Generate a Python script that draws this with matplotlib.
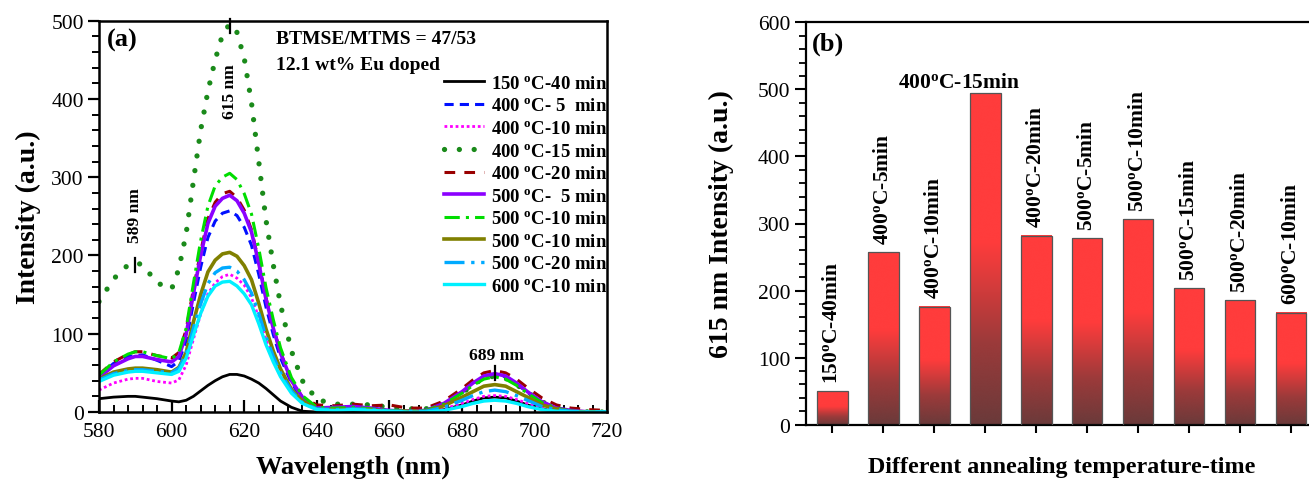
import numpy as np
import matplotlib
matplotlib.use('Agg')
import matplotlib.pyplot as plt
from matplotlib.ticker import MultipleLocator, NullFormatter
from matplotlib.colors import LinearSegmentedColormap

plt.rcParams['font.family'] = ['Liberation Serif', 'DejaVu Serif']
plt.rcParams['mathtext.fontset'] = 'custom'
plt.rcParams['mathtext.rm'] = 'Liberation Serif'
plt.rcParams['mathtext.bf'] = 'Liberation Serif:bold'
plt.rcParams['mathtext.it'] = 'Liberation Serif:italic'

# ---------------- data: panel (a) ----------------
wavelength = [580, 584, 588, 590, 592, 596,
              600, 602, 604, 606, 608, 610, 612, 614, 616, 618, 620, 622, 624, 626, 628, 630,
              633, 636, 640,
              645, 650, 655, 660, 665, 670, 675,
              680, 683, 686, 689, 692, 695, 698,
              702, 706, 710, 715, 720]

I_150_40 = [17, 19, 20, 20, 19, 17,
            14, 13, 15, 20, 27, 34, 40, 45, 48, 48, 46, 42, 37, 30, 22, 14,
            6, 1, 0,
            0, 0, 0, 0, 0, 0, 3,
            9, 14, 18, 19, 18, 14, 9,
            4, 1, 0, 0, 0]
I_400_5 = [46, 62, 71, 72, 73, 66,
           58, 65, 91, 139, 185, 223, 244, 254, 257, 251, 236, 213, 176, 134, 99, 69,
           37, 17, 5,
           5, 6, 4, 2, 1, 2, 10,
           25, 36, 45, 48, 45, 36, 25,
           13, 5, 2, 0, 0]
I_400_10 = [28, 37, 42, 43, 43, 39,
            37, 41, 60, 93, 125, 151, 165, 173, 176, 171, 162, 146, 121, 92, 68, 48,
            26, 12, 3,
            3, 4, 3, 1, 1, 1, 4,
            11, 16, 20, 21, 20, 16, 11,
            6, 2, 1, 0, 0]
I_400_15 = [141, 170, 188, 191, 188, 165,
            157, 183, 228, 295, 360, 410, 450, 482, 496, 485, 452, 395, 320, 245, 188, 137,
            78, 40, 16,
            10, 10, 9, 6, 4, 4, 10,
            24, 35, 43, 46, 43, 35, 25,
            13, 5, 2, 0, 0]
I_400_20 = [48, 64, 74, 77, 77, 72,
            69, 76, 105, 157, 205, 247, 268, 279, 282, 274, 258, 233, 192, 146, 108, 76,
            41, 19, 9,
            8, 10, 8, 9, 5, 5, 14,
            30, 41, 50, 53, 50, 42, 31,
            18, 9, 5, 3, 2]
I_500_5 = [44, 59, 68, 71, 71, 67,
           64, 71, 99, 151, 200, 241, 263, 273, 277, 270, 254, 230, 190, 144, 107, 75,
           40, 19, 5,
           6, 7, 5, 2, 1, 2, 11,
           26, 37, 46, 49, 46, 37, 26,
           13, 5, 2, 0, 0]
I_500_10a = [47, 64, 74, 77, 77, 72,
             68, 76, 107, 164, 219, 263, 289, 300, 305, 297, 279, 253, 209, 159, 118, 82,
             44, 21, 6,
             5, 6, 4, 2, 1, 2, 10,
             24, 34, 42, 45, 42, 34, 24,
             12, 5, 1, 0, 0]
I_500_10b = [42, 51, 55, 56, 56, 54,
             51, 57, 76, 115, 150, 179, 194, 202, 204, 199, 187, 169, 139, 106, 78, 55,
             29, 14, 4,
             3, 4, 3, 1, 1, 1, 8,
             19, 26, 33, 35, 33, 26, 19,
             9, 4, 1, 0, 0]
I_500_20 = [41, 49, 53, 54, 54, 52,
            50, 56, 74, 107, 138, 164, 178, 184, 185, 180, 169, 152, 126, 96, 71, 50,
            27, 12, 4,
            3, 4, 3, 1, 1, 1, 6,
            15, 21, 26, 28, 26, 21, 15,
            7, 3, 1, 0, 0]
I_600_10 = [39, 47, 51, 52, 52, 50,
            48, 52, 69, 98, 126, 148, 161, 166, 167, 161, 151, 137, 113, 86, 64, 45,
            24, 11, 3,
            2, 3, 2, 1, 0, 0, 2,
            7, 11, 14, 15, 14, 11, 7,
            3, 1, 0, 0, 0]

O = r'$^{\mathbf{o}}$'
series_labels = ['150 ' + O + 'C-40 min', '400 ' + O + 'C- 5  min', '400 ' + O + 'C-10 min',
                 '400 ' + O + 'C-15 min', '400 ' + O + 'C-20 min', '500 ' + O + 'C-  5 min',
                 '500 ' + O + 'C-10 min', '500 ' + O + 'C-10 min', '500 ' + O + 'C-20 min',
                 '600 ' + O + 'C-10 min']
series_values = [I_150_40, I_400_5, I_400_10, I_400_15, I_400_20, I_500_5,
                 I_500_10a, I_500_10b, I_500_20, I_600_10]

peak_positions = [590, 616, 689]
peak_names = ['589 nm', '615 nm', '689 nm']

# ---------------- data: panel (b) ----------------
bar_labels = ['150' + O + 'C-40min', '400' + O + 'C-5min', '400' + O + 'C-10min',
              '400' + O + 'C-15min', '400' + O + 'C-20min', '500' + O + 'C-5min',
              '500' + O + 'C-10min', '500' + O + 'C-15min', '500' + O + 'C-20min',
              '600' + O + 'C-10min']
bar_values = [50, 257, 176, 494, 282, 278, 306, 204, 186, 167]

# ---------------- styles ----------------
styles = [
    dict(color='black', lw=2.0, ls='-'),
    dict(color='#0010FF', lw=2.2, ls=(0, (3, 2))),
    dict(color='#FF00FF', lw=2.0, ls=(0, (1, 1))),
    dict(color='#1A8A1A', lw=3.8, ls=(0, (0.01, 2.8)), dash_capstyle='round'),
    dict(color='#990000', lw=2.2, ls=(0, (3.5, 3))),
    dict(color='#8B00FF', lw=2.6, ls='-'),
    dict(color='#00DD00', lw=2.2, ls=(0, (5, 2, 1, 2))),
    dict(color='#808000', lw=2.6, ls='-'),
    dict(color='#00AAFF', lw=2.4, ls=(0, (6, 2, 1, 2))),
    dict(color='#00F0FF', lw=2.4, ls='-'),
]

W, H = 1309, 481
fig = plt.figure(figsize=(W / 100, H / 100), dpi=100)

# ---------------- panel (a) ----------------
ax1 = fig.add_axes([99 / W, 1 - 413 / H, (607.3 - 99) / W, (413 - 21.7) / H])
for vals, lab, st in zip(series_values, series_labels, styles):
    ax1.plot(wavelength, vals, label=lab, **st)

ax1.set_xlim(580, 720)
ax1.set_ylim(0, 500)
ax1.xaxis.set_major_locator(MultipleLocator(20))
ax1.xaxis.set_minor_locator(MultipleLocator(4))
ax1.yaxis.set_major_locator(MultipleLocator(100))
ax1.yaxis.set_minor_locator(MultipleLocator(20))
ax1.tick_params(axis='x', which='major', direction='in', length=9, width=1.6, labelsize=15.5, pad=7)
ax1.tick_params(axis='x', which='minor', direction='in', length=5, width=1.4)
ax1.tick_params(axis='y', which='major', direction='out', length=8, width=1.6, labelsize=15.5, pad=3)
ax1.tick_params(axis='y', which='minor', direction='out', length=5, width=1.4)
for s in ax1.spines.values():
    s.set_linewidth(1.8)
ax1.set_xlabel('Wavelength (nm)', fontsize=19, fontweight='bold')
ax1.xaxis.set_label_coords(0.5, -0.11)
ax1.set_ylabel('Intensity (a.u.)', fontsize=20, fontweight='bold')
ax1.yaxis.set_label_coords(-0.115, 0.5)

ax1.text(0.016, 0.952, '(a)', transform=ax1.transAxes, fontsize=19, fontweight='bold',
         ha='left', va='center')
ax1.text(0.348, 0.954, 'BTMSE/MTMS = 47/53', transform=ax1.transAxes, fontsize=14,
         fontweight='bold', ha='left', va='center')
ax1.text(0.348, 0.888, '12.1 wt% Eu doped', transform=ax1.transAxes, fontsize=14,
         fontweight='bold', ha='left', va='center')

# peak marks and labels
wl = np.array(wavelength)
allv = np.array(series_values)
for pos, name in zip(peak_positions, peak_names):
    i = int(np.argmin(np.abs(wl - pos)))
    top = allv[:, i].max()
    ax1.plot([pos, pos], [top - 12, top + 6], color='black', lw=1.6, clip_on=False)
    if name == '589 nm':
        ax1.text(pos, top + 26, name, rotation=90, ha='center', va='bottom',
                 fontsize=12.5, fontweight='bold')
    elif name == '615 nm':
        ax1.text(pos, top - 85, name, rotation=90, ha='center', va='center',
                 fontsize=12.5, fontweight='bold')
    else:
        ax1.text(pos + 0.5, top + 20, name, ha='center', va='center',
                 fontsize=12.5, fontweight='bold')

leg = ax1.legend(loc='upper left', bbox_to_anchor=(0.678, 0.862), frameon=False,
                 prop={'size': 13.5, 'weight': 'bold'}, handlelength=2.15,
                 handletextpad=0.35, labelspacing=0.29, borderpad=0, borderaxespad=0)

# ---------------- panel (b) ----------------
ax2 = fig.add_axes([805.7 / W, 1 - 425.7 / H, (1317.7 - 805.7) / W, (425.7 - 23.3) / H])
x = np.arange(1, len(bar_values) + 1)
bars = ax2.bar(x, bar_values, width=0.6, color='none', edgecolor='#555555',
               linewidth=0.9, zorder=3)
cmap = LinearSegmentedColormap.from_list(
    'redgrad', [(0.0, '#6A3A3A'), (0.25, '#9C3A3A'), (0.55, '#FF3C3C'), (1.0, '#FF3C3C')])
grad = np.linspace(0, 1, 256).reshape(-1, 1)
for b in bars:
    x0, w, h = b.get_x(), b.get_width(), b.get_height()
    ax2.imshow(grad, extent=[x0, x0 + w, 0, h], origin='lower', cmap=cmap,
               aspect='auto', zorder=2, interpolation='bicubic')

for xi, v, lab in zip(x, bar_values, bar_labels):
    if v == max(bar_values):
        ax2.annotate(lab, xy=(xi - 0.52, v), xytext=(0, 1), textcoords='offset points',
                     ha='center', va='bottom', fontsize=15.5, fontweight='bold')
    else:
        ax2.annotate(lab, xy=(xi, v), xytext=(0, 6), textcoords='offset points',
                     rotation=90, ha='center', va='bottom', fontsize=15.5,
                     fontweight='bold')

ax2.set_xlim(0.48, 10.52)
ax2.set_ylim(0, 600)
ax2.set_xticks(x)
ax2.xaxis.set_major_formatter(NullFormatter())
ax2.yaxis.set_major_locator(MultipleLocator(100))
ax2.yaxis.set_minor_locator(MultipleLocator(20))
ax2.tick_params(axis='x', which='major', direction='out', length=6, width=1.5)
ax2.tick_params(axis='y', which='major', direction='out', length=8, width=1.5,
                labelsize=15.5, pad=3)
ax2.tick_params(axis='y', which='minor', direction='out', length=5, width=1.3)
for s in ax2.spines.values():
    s.set_linewidth(1.6)
ax2.set_ylabel('615 nm Intensity (a.u.)', fontsize=20, fontweight='bold')
ax2.yaxis.set_label_coords(-0.14, 0.5)
ax2.set_xlabel('Different annealing temperature-time', fontsize=17.3, fontweight='bold')
ax2.xaxis.set_label_coords(0.5, -0.077)
ax2.text(0.012, 0.947, '(b)', transform=ax2.transAxes, fontsize=19, fontweight='bold',
         ha='left', va='center')

fig.savefig('out.png', dpi=100)
